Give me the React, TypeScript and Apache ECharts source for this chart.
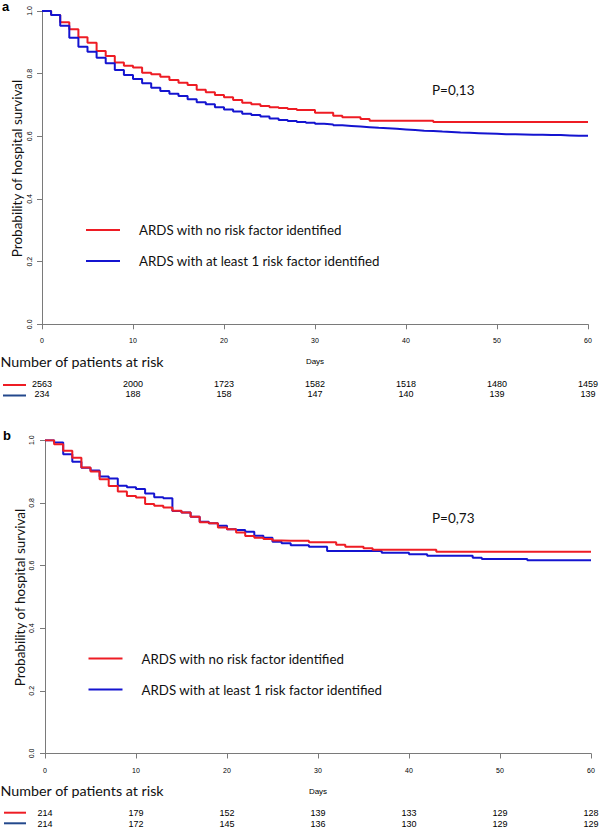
import React, { useEffect, useRef } from "react";
import * as echarts from "echarts";

// ---------- data ----------
const NAME_RED = "ARDS with no risk factor identified";
const NAME_BLUE = "ARDS with at least 1 risk factor identified";
const Y_TITLE = "Probability of hospital survival";
const RISK_TITLE = "Number of patients at risk";

// survival probability at each day 0..60 (panel a)
const survRedA = [
  1.0, 0.987, 0.964, 0.942, 0.916, 0.899, 0.872, 0.856, 0.836, 0.825,
  0.82, 0.803, 0.798, 0.79, 0.78, 0.771, 0.764, 0.749, 0.741, 0.732,
  0.725, 0.716, 0.707, 0.702, 0.697, 0.693, 0.69, 0.687, 0.684, 0.684,
  0.675, 0.675, 0.666, 0.661, 0.661, 0.655, 0.65, 0.65, 0.65, 0.65,
  0.65, 0.65, 0.65, 0.646, 0.646, 0.646, 0.646, 0.646, 0.646, 0.646,
  0.646, 0.646, 0.646, 0.646, 0.646, 0.646, 0.646, 0.646, 0.646, 0.646,
  0.646,
];
const survBlueA = [
  1.0, 0.987, 0.953, 0.915, 0.886, 0.87, 0.851, 0.833, 0.812, 0.796,
  0.783, 0.769, 0.755, 0.745, 0.736, 0.729, 0.718, 0.709, 0.702, 0.693,
  0.686, 0.679, 0.672, 0.668, 0.663, 0.657, 0.652, 0.649, 0.646, 0.643,
  0.64, 0.638, 0.635, 0.633, 0.631, 0.629, 0.627, 0.626, 0.624, 0.622,
  0.62, 0.618, 0.617, 0.615, 0.614, 0.612, 0.611, 0.61, 0.609, 0.608,
  0.607, 0.607, 0.606, 0.605, 0.605, 0.604, 0.604, 0.603, 0.602, 0.602,
  0.602,
];
// panel b
const survRedB = [
  1.0, 0.987, 0.966, 0.944, 0.913, 0.9, 0.875, 0.854, 0.836, 0.822,
  0.817, 0.796, 0.791, 0.785, 0.775, 0.769, 0.756, 0.738, 0.735, 0.721,
  0.716, 0.705, 0.694, 0.689, 0.685, 0.68, 0.679, 0.679, 0.679, 0.674,
  0.674, 0.674, 0.666, 0.66, 0.66, 0.655, 0.65, 0.65, 0.65, 0.65,
  0.65, 0.65, 0.65, 0.644, 0.644, 0.644, 0.644, 0.644, 0.644, 0.644,
  0.644, 0.644, 0.644, 0.644, 0.644, 0.644, 0.644, 0.644, 0.644, 0.644,
  0.644,
];
const survBlueB = [
  1.0, 0.993, 0.955, 0.931, 0.912, 0.903, 0.884, 0.878, 0.855, 0.85,
  0.844, 0.83, 0.818, 0.815, 0.774, 0.769, 0.756, 0.74, 0.735, 0.727,
  0.716, 0.713, 0.708, 0.695, 0.689, 0.676, 0.671, 0.665, 0.665, 0.66,
  0.66, 0.646, 0.646, 0.646, 0.646, 0.646, 0.646, 0.641, 0.641, 0.641,
  0.636, 0.636, 0.631, 0.631, 0.631, 0.631, 0.631, 0.625, 0.621, 0.621,
  0.621, 0.621, 0.621, 0.617, 0.617, 0.617, 0.617, 0.617, 0.617, 0.617,
  0.617,
];

// numbers at risk at days 0,10,...,60
const riskRedA = [2563, 2000, 1723, 1582, 1518, 1480, 1459];
const riskBlueA = [234, 188, 158, 147, 140, 139, 139];
const riskRedB = [214, 179, 152, 139, 133, 129, 128];
const riskBlueB = [214, 172, 145, 136, 130, 129, 129];

const pValueA = "P=0,13";
const pValueB = "P=0,73";

// ---------- style ----------
const RED = "#ee1c24";
const BLUE = "#1414d0";
const NAVY = "#23488c";
const AXIS = "#7a7a7a";
const SANS = "Lato, 'Noto Sans', sans-serif";
const ARIAL = "'Liberation Sans', Arial, sans-serif";

const toPairs = (arr: number[]) => arr.map((v, i) => [i, v]);

function panel(
  gi: number,
  riskRed: number[],
  riskBlue: number[],
  yLabelMargin: number,
  riskM1: number,
  riskM2: number
) {
  const xMain = {
    type: "value",
    gridIndex: gi,
    min: 0,
    max: 60,
    interval: 10,
    position: "bottom",
    axisLine: { show: true, onZero: false, lineStyle: { color: AXIS, width: 1 } },
    axisTick: { show: true, length: 5, lineStyle: { color: AXIS, width: 1 } },
    splitLine: { show: false },
    axisLabel: { margin: 13, fontSize: 7, fontFamily: ARIAL, color: "#000" },
    name: "Days",
    nameLocation: "middle",
    nameGap: 33.6,
    nameMoveOverlap: false,
    nameTextStyle: { fontSize: 8, fontFamily: ARIAL, color: "#000" },
  };
  const riskAxis = (vals: number[], margin: number) => ({
    type: "value",
    gridIndex: gi,
    min: 0,
    max: 60,
    interval: 10,
    position: "bottom",
    axisLine: { show: false, onZero: false },
    axisTick: { show: false },
    splitLine: { show: false },
    axisLabel: {
      margin,
      fontSize: 9,
      fontFamily: ARIAL,
      color: "#000",
      formatter: (v: number) => String(vals[Math.round(v / 10)]),
    },
  });
  const yAxis = {
    type: "value",
    gridIndex: gi,
    min: 0,
    max: 1,
    interval: 0.2,
    axisLine: { show: true, lineStyle: { color: AXIS, width: 1 } },
    axisTick: { show: true, length: 5, lineStyle: { color: AXIS, width: 1 } },
    splitLine: { show: false },
    axisLabel: {
      rotate: 90,
      margin: yLabelMargin,
      fontSize: 7,
      fontFamily: ARIAL,
      color: "#000",
      formatter: (v: number) => v.toFixed(1),
    },
  };
  return {
    xAxes: [xMain, riskAxis(riskRed, riskM1), riskAxis(riskBlue, riskM2)],
    yAxis,
  };
}

export default function App() {
  const ref = useRef<HTMLDivElement>(null);
  useEffect(() => {
    if (!ref.current) return;
    const chart = echarts.init(ref.current, undefined, { renderer: "svg" });
    const pa = panel(0, riskRedA, riskBlueA, 9, 55.4, 64.9);
    const pb = panel(1, riskRedB, riskBlueB, 10, 55.3, 65.7);

    const line = (name: string, data: number[], color: string, g: number, z: number) => ({
      type: "line",
      name,
      xAxisIndex: g * 3,
      yAxisIndex: g,
      data: toPairs(data),
      step: "end",
      symbol: "none",
      lineStyle: { color, width: 2 },
      itemStyle: { color },
      z,
    });

    const legendCommon = {
      orient: "vertical",
      icon: "rect",
      itemWidth: 34,
      itemHeight: 2,
      itemGap: 14,
      padding: 0,
      selectedMode: false,
      textStyle: {
        fontSize: 13.3,
        fontFamily: SANS,
        color: "#111",
        lineHeight: 17,
        padding: [0, 0, 0, 14],
      },
      data: [NAME_RED, NAME_BLUE],
    };

    const txt = (text: string, x: number, y: number, font: any, extra: any = {}) => ({
      type: "text",
      x,
      y,
      ...extra,
      style: { text, align: "left", verticalAlign: "middle", fill: "#111", ...font },
    });
    const seg = (x1: number, y: number, x2: number, color: string) => ({
      type: "line",
      shape: { x1, y1: y, x2, y2: y },
      style: { stroke: color, lineWidth: 2 },
    });

    chart.setOption({
      animation: false,
      backgroundColor: "#ffffff",
      grid: [
        { left: 42, top: 11, width: 546, height: 313.3, outerBoundsMode: "none", containLabel: false },
        { left: 45, top: 440.2, width: 546, height: 313.3, outerBoundsMode: "none", containLabel: false },
      ],
      xAxis: [...pa.xAxes, ...pb.xAxes],
      yAxis: [pa.yAxis, pb.yAxis],
      legend: [
        { ...legendCommon, left: 86, top: 221.5 },
        { ...legendCommon, left: 88.5, top: 650 },
      ],
      series: [
        line(NAME_RED, survRedA, RED, 0, 2),
        line(NAME_BLUE, survBlueA, BLUE, 0, 3),
        line(NAME_BLUE, survBlueB, BLUE, 1, 2),
        line(NAME_RED, survRedB, RED, 1, 3),
      ],
      graphic: [
        txt("a", 2, 6, { fontSize: 13, fontWeight: "bold", fontFamily: ARIAL, fill: "#000" }),
        txt("b", 3, 435.5, { fontSize: 13, fontWeight: "bold", fontFamily: ARIAL, fill: "#000" }),
        txt(Y_TITLE, 17, 168.5, { fontSize: 13.5, fontFamily: SANS, align: "center" }, { rotation: Math.PI / 2 }),
        txt(Y_TITLE, 19.5, 597.5, { fontSize: 13.5, fontFamily: SANS, align: "center" }, { rotation: Math.PI / 2 }),
        txt(pValueA, 432, 90, { fontSize: 13.5, fontFamily: SANS }),
        txt(pValueB, 432, 518.3, { fontSize: 13.5, fontFamily: SANS }),
        txt(RISK_TITLE, 0.5, 361, { fontSize: 14.3, fontFamily: SANS }),
        txt(RISK_TITLE, 0.5, 790, { fontSize: 14.3, fontFamily: SANS }),
        seg(3, 385, 26, RED),
        seg(3, 395.5, 26, NAVY),
        seg(4, 812.7, 26, RED),
        seg(4, 823.3, 26, NAVY),
      ],
    });
    return () => chart.dispose();
  }, []);
  return (
    <div
      ref={ref}
      style={{ position: "absolute", left: 0, top: 0, width: 600, height: 828, background: "#fff" }}
    />
  );
}
